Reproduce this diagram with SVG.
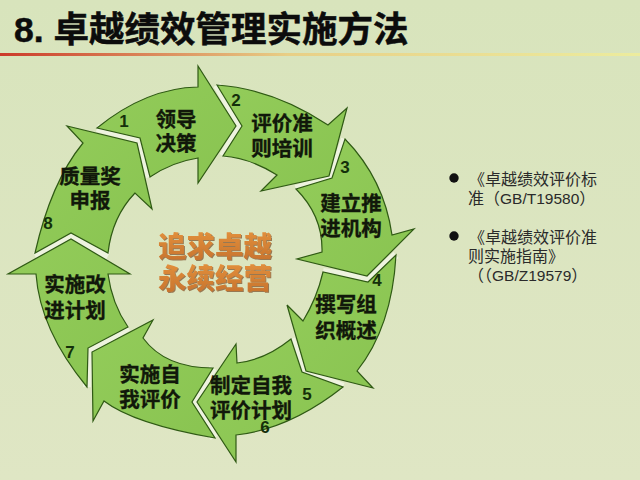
<svg xmlns="http://www.w3.org/2000/svg" width="640" height="480" viewBox="0 0 640 480">
<style>
.a{fill:url(#g);stroke:#2f5a14;stroke-width:1.2;stroke-linejoin:miter}
.gap{fill:none;stroke:#eef3df;stroke-width:8;stroke-linejoin:miter}
.t{font-family:"Noto Sans CJK SC","Liberation Sans",sans-serif;font-size:20.5px;font-weight:700;fill:#11180a;text-anchor:middle;stroke:#11180a;stroke-width:.35}
.n{font-family:"Liberation Sans",sans-serif;font-size:17px;fill:#14300a;text-anchor:middle;font-weight:700}
.c{font-family:"Noto Sans CJK SC","Liberation Sans",sans-serif;font-size:28.5px;font-weight:900;fill:url(#o);text-anchor:middle;filter:url(#sh)}
.s{font-family:"Noto Sans CJK SC","Liberation Sans",sans-serif;font-size:16px;fill:#2a2a2a}
.l{font-family:"Liberation Sans Narrow","Liberation Sans",sans-serif;font-size:15.5px}
</style>
<defs>
<linearGradient id="bg" x1="0" y1="0" x2="0" y2="1"><stop offset="0" stop-color="#d8e4bc"/><stop offset="1" stop-color="#dfe6c4"/></linearGradient>
<linearGradient id="g" x1="0" y1="0" x2="1" y2="1"><stop offset="0" stop-color="#93cc5a"/><stop offset="1" stop-color="#89c451"/></linearGradient>
<linearGradient id="o" x1="0" y1="0" x2="0" y2="1"><stop offset="0" stop-color="#e8963f"/><stop offset="1" stop-color="#c4702c"/></linearGradient>
<linearGradient id="r" x1="0" y1="0" x2="1" y2="0"><stop offset="0" stop-color="#cc3a2a"/><stop offset=".45" stop-color="#e8cf86"/><stop offset="1" stop-color="#ecec9e"/></linearGradient>
<filter id="sh" x="-5%" y="-10%" width="110%" height="125%"><feDropShadow dx="1" dy="1" stdDeviation=".6" flood-color="#7a4a20" flood-opacity=".7"/></filter>
</defs>
<rect width="640" height="480" fill="url(#bg)"/>
<rect x="0" y="53" width="640" height="3" fill="url(#r)"/>
<text x="14" y="42" font-family="'Liberation Sans','Noto Sans CJK SC',sans-serif" font-size="35.5" font-weight="700" fill="#0c0c0c" stroke="#0c0c0c" stroke-width=".5">8. 卓越绩效管理实施方法</text>
<g id="connectors">
<path class="gap" d="M217 85L240 126L223 156"/>
<path class="gap" d="M345 139L332 176L296 189"/>
<path class="gap" d="M396 255L368 279L323 272"/>
<path class="gap" d="M291 339L304 371L343 387"/>
<path class="gap" d="M213 368L194 402L214 438"/>
<path class="gap" d="M128 327L90 350L87 387"/>
<path class="gap" d="M35 256L71 236L108 256"/>
<path class="gap" d="M97 128L139 139L150 177"/>
</g>
<g id="n1"><path class="a" d="M97 128Q146 88 198 87L198 66L236 126L198 183L198 158Q172 162 150 177L140 138Z"/><text class="t" x="176" y="127">领导</text><text class="t" x="176" y="151">决策</text><text class="n" x="124" y="127">1</text></g>
<g id="n2"><path class="a" d="M217 85Q274 89 328 125L347 108L329 176L261 191L277 175Q250 158 223 156L242 126Z"/><text class="t" x="282" y="131">评价准</text><text class="t" x="282" y="156">则培训</text><text class="n" x="236" y="106">2</text></g>
<g id="n3"><path class="a" d="M345 139Q384 179 392 235L414 229L367 276L297 259L322 252Q323 216 296 189L332 178Z"/><text class="t" x="351" y="211">建立推</text><text class="t" x="351" y="236">进机构</text><text class="n" x="345" y="173">3</text></g>
<g id="n4"><path class="a" d="M396 255Q392 327 357 371L373 388L306 371L287 305L303 321Q317 298 323 272L368 282Z"/><text class="t" x="346" y="312">撰写组</text><text class="t" x="346" y="338">织概述</text><text class="n" x="377" y="286">4</text></g>
<g id="n5"><path class="a" d="M291 339L302 372L343 387Q290 429 236 435L236 462L197 402L236 344L237 363Q265 360 291 339Z"/><text class="t" x="251" y="393">制定自我</text><text class="t" x="251" y="418">评价计划</text><text class="n" x="307" y="400">5</text></g>
<g id="n6"><path class="a" d="M213 368Q165 368 143 338L153 320L92 352L93 421L104 401Q134 424 215 438L192 402Z"/><text class="t" x="150" y="382">实施自</text><text class="t" x="150" y="407">我评价</text><text class="n" x="265" y="433">6</text></g>
<g id="n7"><path class="a" d="M128 327L88 348L87 387Q40 330 36 274L8 274L71 239L130 274L108 274Q112 304 128 327Z"/><text class="t" x="75" y="292">实施改</text><text class="t" x="75" y="318">进计划</text><text class="n" x="70" y="358">7</text></g>
<g id="n8"><path class="a" d="M35 253Q51 182 83 143L67 126L137 143L152 209L135 193Q112 217 108 253L71 233Z"/><text class="t" x="90" y="184">质量奖</text><text class="t" x="90" y="208">申报</text><text class="n" x="48" y="229">8</text></g>
<g id="center"><text class="c" x="215" y="257">追求卓越</text><text class="c" x="215" y="289">永续经营</text></g>
<g id="notes"><circle cx="454" cy="178" r="4.7" fill="#111"/><circle cx="454" cy="236" r="4.7" fill="#111"/>
<text class="s" x="469" y="185">《卓越绩效评价标</text><text class="s" x="468" y="204">准（<tspan class="l">GB/T19580</tspan>）</text>
<text class="s" x="469" y="243">《卓越绩效评价准</text><text class="s" x="468" y="262">则实施指南》</text><text class="s" x="468" y="281">（（<tspan class="l">GB/Z19579</tspan>）</text></g>
</svg>
